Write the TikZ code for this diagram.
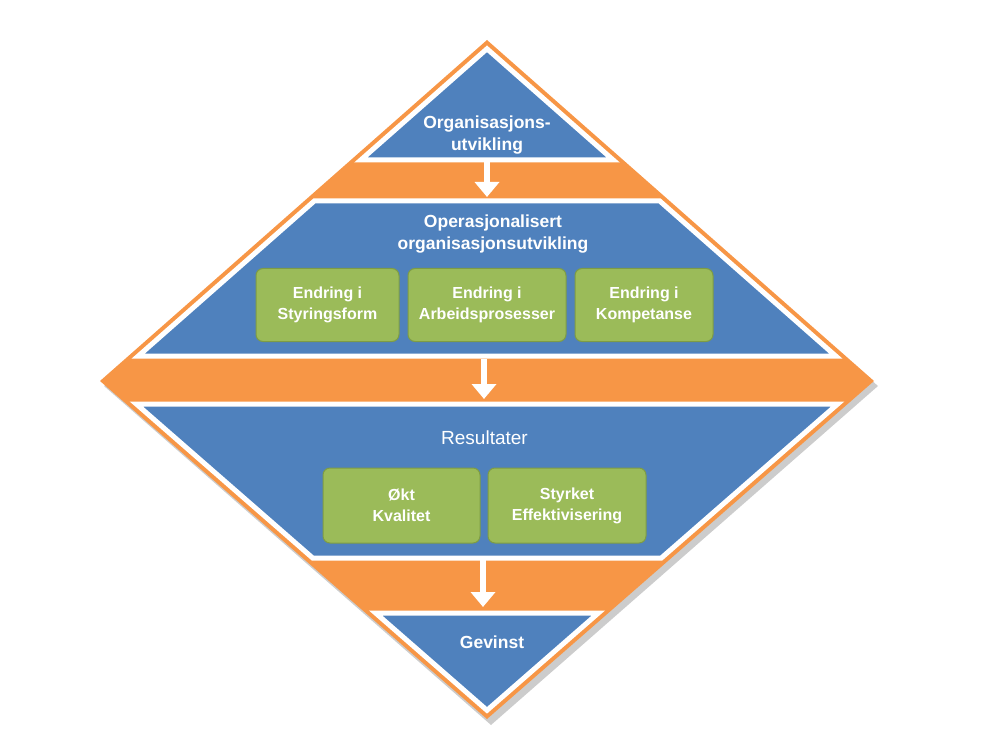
\documentclass[tikz,border=0pt]{standalone}
\usepackage{fontspec}
\setmainfont{Liberation Sans}
\usetikzlibrary{arrows.meta}
\definecolor{dorange}{HTML}{F79646}
\definecolor{dblue}{HTML}{4F81BD}
\definecolor{dgreen}{HTML}{9BBB59}
\definecolor{dgreenline}{HTML}{7E9C45}
\begin{document}
\begin{tikzpicture}[x=1pt, y=-1pt,
  level/.style={fill=dblue, draw=white, line width=5pt},
  title/.style={text=white, font=\bfseries\fontsize{17.5}{22}\selectfont, align=center},
  box/.style={fill=dgreen, draw=dgreenline, line width=1pt, rounded corners=7pt,
    text=white, font=\bfseries\fontsize{16}{21}\selectfont, align=center, minimum height=73pt},
  flow/.style={white, line width=6pt, -{Triangle[width=24pt,length=15pt]}}]
\useasboundingbox (0,0) rectangle (1004,751);
\fill[black!20] (491,45) -- (878,386) -- (491,725) -- (104,386) -- cycle;
\fill[dorange] (487,40) -- (874,381) -- (487,719) -- (100,381) -- cycle;
\draw[level] (487,48.8) -- (613.2,160) -- (360.8,160) -- cycle;
\draw[level] (314.3,201) -- (659.7,201) -- (835.7,356) -- (138.3,356) -- cycle;
\draw[level] (136.3,404) -- (837.7,404) -- (661.3,558) -- (312.7,558) -- cycle;
\draw[level] (375.6,613) -- (598.4,613) -- (487,710.3) -- cycle;
\coordinate (orgdev out) at (487,162);
\coordinate (opdev in) at (487,197);
\coordinate (opdev out) at (484,359);
\coordinate (results in) at (484,399);
\coordinate (results out) at (483,560);
\coordinate (gain in) at (483,607);
\node[title] (orgdev) at (487,135) {Organisasjons-\\utvikling};
\node[title] (opdev) at (493,234) {Operasjonalisert\\organisasjonsutvikling};
\node[box, minimum width=143pt] (steering) at (327.5,305) {Endring i\\Styringsform};
\node[box, minimum width=158pt] (work) at (487,305) {Endring i\\Arbeidsprosesser};
\node[box, minimum width=138pt] (skills) at (644,305) {Endring i\\Kompetanse};
\node[text=white, font=\fontsize{19}{22}\selectfont] (results) at (484.5,438) {Resultater};
\node[box, minimum width=157pt, minimum height=75pt] (quality) at (401.5,505.5) {Økt\\Kvalitet};
\node[box, minimum width=158pt, minimum height=75pt] (efficiency) at (567,505.5) {Styrket\\Effektivisering};
\node[title] (gain) at (492,642) {Gevinst};
\draw[flow] (orgdev out) -- (opdev in);
\draw[flow] (opdev out) -- (results in);
\draw[flow] (results out) -- (gain in);
\end{tikzpicture}
\end{document}
